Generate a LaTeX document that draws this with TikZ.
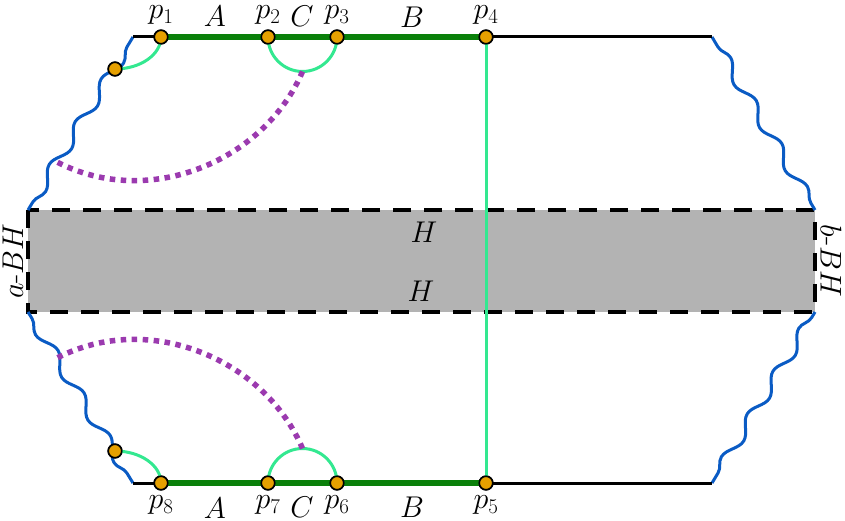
\RequirePackage{fix-cm}
\documentclass[tikz,border=0pt]{standalone}
\usetikzlibrary{decorations.pathmorphing}
\definecolor{wblue}{HTML}{0A5BC4}
\definecolor{lgreen}{HTML}{33E890}
\definecolor{dgreen}{HTML}{0A800A}
\definecolor{dpurple}{HTML}{9B3AAF}
\definecolor{dotorange}{HTML}{E6A000}
\definecolor{bhgray}{HTML}{B3B3B3}
\begin{document}
\begin{tikzpicture}[x=1pt,y=-1pt,
  dotpt/.style={circle,draw=black,line width=1.6pt,fill=dotorange,inner sep=0pt,minimum size=13.5pt},
  lbl/.style={font=\fontsize{30}{36}\selectfont,inner sep=0pt},
  wave/.style={wblue,line width=3pt,decorate,decoration={snake,segment length=50pt,amplitude=5.5pt,pre=lineto,pre length=11.7pt}},
  thinline/.style={black,line width=3pt},
  thickgreen/.style={dgreen,line width=6pt},
  lightgreen/.style={lgreen,line width=3pt},
  purpledots/.style={dpurple,line width=5.5pt,dash pattern=on 5.5pt off 5.5pt},
  bhbox/.style={fill=bhgray,draw=black,line width=4pt,dash pattern=on 18pt off 13pt}
]
\useasboundingbox (0,0) rectangle (845,521);
% corners
\coordinate (tl) at (133,37);
\coordinate (tr) at (712,37);
\coordinate (bl) at (133,483);
\coordinate (br) at (712,483);
\coordinate (rtl) at (28,210);
\coordinate (rtr) at (815,210);
\coordinate (rbl) at (28,312);
\coordinate (rbr) at (815,312);
\coordinate (w1) at (57,162);
\coordinate (w2) at (57,358);
\coordinate (c1) at (302.5,71.5);
\coordinate (c2) at (302.5,448.5);

% grey band
\draw[bhbox] (rtl) rectangle (rbr);

% wavy boundaries
\draw[wave] (tl) -- (rtl);
\draw[wave] (bl) -- (rbl);
\draw[wave] (tr) -- (rtr);
\draw[wave] (br) -- (rbr);

% points
\node[dotpt] (p1) at (161,37) {};
\node[dotpt] (p2) at (268,37) {};
\node[dotpt] (p3) at (337,37) {};
\node[dotpt] (p4) at (486,37) {};
\node[dotpt] (p5) at (486,483) {};
\node[dotpt] (p6) at (337,483) {};
\node[dotpt] (p7) at (268,483) {};
\node[dotpt] (p8) at (161,483) {};
\node[dotpt] (s1) at (115,69) {};
\node[dotpt] (s2) at (115,451) {};

% boundary lines
\draw[thinline] (tl) -- (p1.center);
\draw[thinline] (p4.center) -- (tr);
\draw[thinline] (bl) -- (p8.center);
\draw[thinline] (p5.center) -- (br);
\draw[thickgreen] (p1.center) -- (p4.center);
\draw[thickgreen] (p8.center) -- (p5.center);

% green arcs
\draw[lightgreen] (p1.center) .. controls +(0,17.7) and +(25.4,0) .. (s1.center);
\draw[lightgreen] (p8.center) .. controls +(0,-17.7) and +(25.4,0) .. (s2.center);
\draw[lightgreen] (p2.center) .. controls +(0,19) and +(-19,0) .. (c1) .. controls +(19,0) and +(0,19) .. (p3.center);
\draw[lightgreen] (p7.center) .. controls +(0,-19) and +(-19,0) .. (c2) .. controls +(19,0) and +(0,-19) .. (p6.center);
\draw[lightgreen] (p4.center) -- (p5.center);

% purple dotted geodesics
\draw[purpledots] (c1) .. controls (265,160) and (150,210) .. (w1);
\draw[purpledots] (c2) .. controls (265,360) and (150,310) .. (w2);

% redraw points on top
\foreach \n in {p1,p2,p3,p4,p5,p6,p7,p8,s1,s2}
  \node[dotpt] at (\n) {};

% labels
\node[lbl] (l1) at (161,15) {$p_1$};
\node[lbl] (la) at (215,16) {$A$};
\node[lbl] (l2) at (268,15) {$p_2$};
\node[lbl] (lc) at (302,16) {$C$};
\node[lbl] (l3) at (337,15) {$p_3$};
\node[lbl] (lb) at (412,17) {$B$};
\node[lbl] (l4) at (486,15) {$p_4$};
\node[lbl] (l8) at (161,505) {$p_8$};
\node[lbl] (la2) at (215,508) {$A$};
\node[lbl] (l7) at (268,505) {$p_7$};
\node[lbl] (lc2) at (302,507) {$C$};
\node[lbl] (l6) at (337,505) {$p_6$};
\node[lbl] (lb2) at (412,507) {$B$};
\node[lbl] (l5) at (486,505) {$p_5$};
\node[lbl] (h1) at (424,232) {$H$};
\node[lbl] (h2) at (421,291) {$H$};
\node[lbl,rotate=90] (abh) at (13,261) {$a$-$BH$};
\node[lbl,rotate=-90] (bbh) at (831,261) {$b$-$BH$};
\end{tikzpicture}
\end{document}
